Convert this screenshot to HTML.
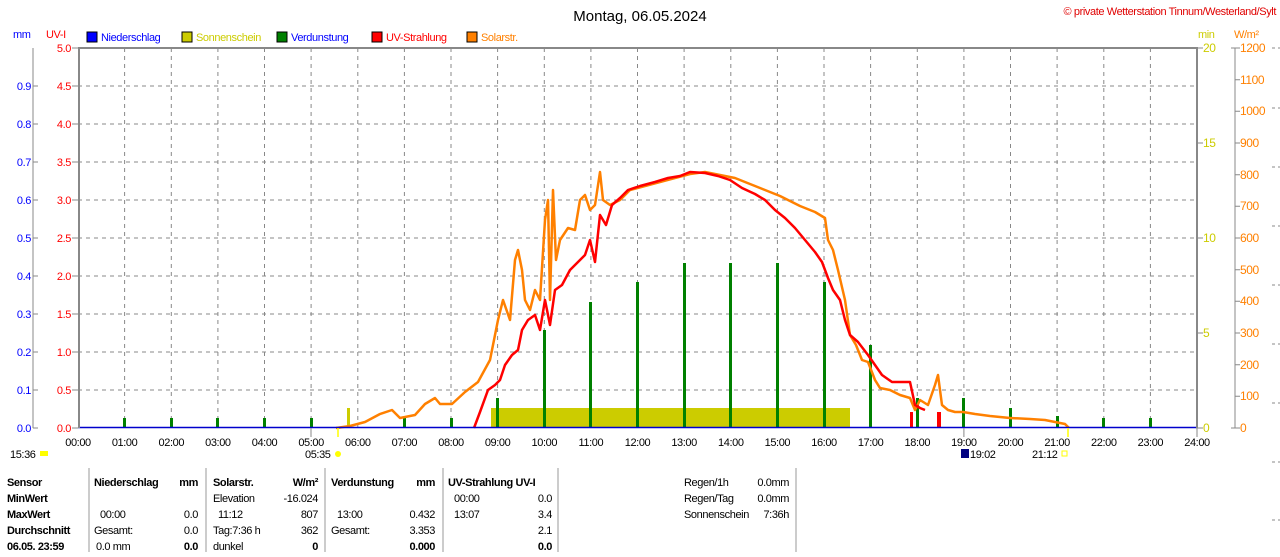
<!DOCTYPE html>
<html><head><meta charset="utf-8"><style>
body{margin:0;background:#fff;width:1280px;height:552px;overflow:hidden}
svg{font-family:"Liberation Sans",sans-serif;font-size:12px}
svg g text{letter-spacing:-0.4px}
</style></head><body>
<svg width="1280" height="552" xmlns="http://www.w3.org/2000/svg">
<text x="640" y="21" font-size="15" text-anchor="middle">Montag, 06.05.2024</text>
<g><text x="1276" y="15" font-size="11" fill="#e00000" text-anchor="end">© private Wetterstation Tinnum/Westerland/Sylt</text></g>
<g font-size="11">
<text x="13" y="38" fill="#0000ff">mm</text>
<text x="46" y="38" fill="#ff0000">UV-I</text>
<rect x="87" y="32" width="10" height="10" fill="#0000ff" stroke="#000"/><text x="101" y="41" fill="#0000ff">Niederschlag</text>
<rect x="182" y="32" width="10" height="10" fill="#cccc00" stroke="#000"/><text x="196" y="41" fill="#cccc00">Sonnenschein</text>
<rect x="277" y="32" width="10" height="10" fill="#008000" stroke="#000"/><text x="291" y="41" fill="#0000ff">Verdunstung</text>
<rect x="372" y="32" width="10" height="10" fill="#ff0000" stroke="#000"/><text x="386" y="41" fill="#ff0000">UV-Strahlung</text>
<rect x="467" y="32" width="10" height="10" fill="#ff8000" stroke="#000"/><text x="481" y="41" fill="#ff8000">Solarstr.</text>
<text x="1198" y="38" fill="#cccc00">min</text>
<text x="1234" y="38" fill="#ff8000">W/m²</text>
</g>
<g stroke="#888" stroke-dasharray="4,4" stroke-width="1">
<path d="M78 86H1197M78 124H1197M78 162H1197M78 200H1197M78 238H1197M78 276H1197M78 314H1197M78 352H1197M78 390H1197"/>
<path d="M124.6 48V428M171.3 48V428M217.9 48V428M264.5 48V428M311.1 48V428M357.8 48V428M404.4 48V428M451 48V428M497.6 48V428M544.3 48V428M590.9 48V428M637.5 48V428M684.1 48V428M730.8 48V428M777.4 48V428M824 48V428M870.6 48V428M917.3 48V428M963.9 48V428M1010.5 48V428M1057.1 48V428M1103.8 48V428M1150.4 48V428"/>
</g>
<rect x="491" y="408" width="359" height="20" fill="#cccc00"/>
<rect x="347" y="408" width="3" height="20" fill="#cccc00"/>
<g fill="#008000">
<rect x="123" y="418" width="3" height="10"/><rect x="170" y="418" width="3" height="10"/><rect x="216" y="418" width="3" height="10"/><rect x="263" y="418" width="3" height="10"/><rect x="310" y="418" width="3" height="10"/><rect x="403" y="418" width="3" height="10"/><rect x="450" y="418" width="3" height="10"/>
<rect x="496" y="398" width="3" height="30"/><rect x="543" y="330" width="3" height="98"/><rect x="589" y="302" width="3" height="126"/><rect x="636" y="282" width="3" height="146"/><rect x="683" y="263" width="3" height="165"/><rect x="729" y="263" width="3" height="165"/><rect x="776" y="263" width="3" height="165"/><rect x="823" y="282" width="3" height="146"/><rect x="869" y="345" width="3" height="83"/><rect x="916" y="398" width="3" height="30"/><rect x="962" y="398" width="3" height="30"/><rect x="1009" y="408" width="3" height="20"/><rect x="1056" y="416" width="3" height="12"/><rect x="1102" y="418" width="3" height="10"/><rect x="1149" y="418" width="3" height="10"/>
</g>
<polyline fill="none" stroke="#ff8000" stroke-width="2.5" stroke-linejoin="round" points="336,428 350,426 365,422 380,414 392,410 400,418 415,415 425,404 435,398 440,404 452,404 465,392 478,382 490,360 498,320 503,300 510,320 515,260 518,250 522,270 525,300 530,310 535,290 540,300 545,220 548,200 550,300 553,190 556,260 560,240 568,228 575,230 580,200 585,195 590,210 595,205 600,172 603,200 610,205 620,200 630,190 645,186 660,182 675,178 690,174 705,172 720,175 735,178 750,184 765,190 780,196 800,206 815,212 825,218 828,240 833,250 838,270 845,300 850,335 856,345 862,360 868,362 875,380 880,388 890,390 900,395 910,398 915,410 920,400 928,405 935,385 938,375 942,405 948,410 955,412 963,412 975,414 990,416 1010,418 1030,419 1045,420 1055,422 1065,424 1069,428"/>
<polyline fill="none" stroke="#ff0000" stroke-width="2.5" stroke-linejoin="round" points="474,428 480,412 488,390 495,385 500,380 505,365 512,355 518,350 522,330 528,320 535,315 540,330 545,300 550,325 555,290 562,285 570,270 578,262 585,255 590,240 595,262 600,215 606,225 612,205 620,198 628,190 640,186 655,182 668,178 680,176 690,172 705,173 718,176 730,180 742,188 755,194 765,200 775,210 785,218 795,228 805,240 815,252 822,262 828,278 833,290 840,300 845,320 850,335 858,342 868,355 875,365 882,375 892,382 910,382 915,405 920,408 925,410"/>
<rect x="910" y="412" width="3" height="16" fill="#ff0000"/>
<rect x="937" y="412" width="4" height="16" fill="#ff0000"/>
<line x1="78" y1="427.5" x2="1197" y2="427.5" stroke="#0000cc" stroke-width="1.5"/>
<path d="M79 428V48H1197V428" fill="none" stroke="#888" stroke-width="2"/>
<g stroke="#888" stroke-width="1"><path d="M311 428V437M963.9 428V437M1197 428V437"/></g>
<g text-anchor="middle" font-size="11">
<text x="78" y="446">00:00</text><text x="124.6" y="446">01:00</text><text x="171.3" y="446">02:00</text><text x="217.9" y="446">03:00</text><text x="264.5" y="446">04:00</text><text x="311.1" y="446">05:00</text><text x="357.8" y="446">06:00</text><text x="404.4" y="446">07:00</text><text x="451" y="446">08:00</text><text x="497.6" y="446">09:00</text><text x="544.3" y="446">10:00</text><text x="590.9" y="446">11:00</text><text x="637.5" y="446">12:00</text><text x="684.1" y="446">13:00</text><text x="730.8" y="446">14:00</text><text x="777.4" y="446">15:00</text><text x="824" y="446">16:00</text><text x="870.6" y="446">17:00</text><text x="917.3" y="446">18:00</text><text x="963.9" y="446">19:00</text><text x="1010.5" y="446">20:00</text><text x="1057.1" y="446">21:00</text><text x="1103.8" y="446">22:00</text><text x="1150.4" y="446">23:00</text><text x="1197" y="446">24:00</text>
</g>
<g font-size="11">
<text x="10" y="458">15:36</text><rect x="40" y="451" width="8" height="5" fill="#ffff00"/>
<text x="305" y="458">05:35</text><circle cx="338" cy="454" r="3" fill="#ffff00"/>
<rect x="961" y="449" width="8" height="9" fill="#000080"/><text x="970" y="458">19:02</text>
<text x="1032" y="458">21:12</text><rect x="1062" y="451" width="5" height="5" fill="none" stroke="#ffff00"/>
</g>
<line x1="338" y1="428" x2="338" y2="437" stroke="#ffff00" stroke-width="1.5"/>
<line x1="1068" y1="428" x2="1068" y2="437" stroke="#ffff00" stroke-width="1.5"/>
<g stroke="#888"><path d="M33 48V428M33 428H38M33 390H38M33 352H38M33 314H38M33 276H38M33 238H38M33 200H38M33 162H38M33 124H38M33 86H38"/>
<path d="M72 48H78M72 86H78M72 124H78M72 162H78M72 200H78M72 238H78M72 276H78M72 314H78M72 352H78M72 390H78M72 428H78"/></g>
<g fill="#0000ff" font-size="11" text-anchor="end">
<text x="31" y="90">0.9</text><text x="31" y="128">0.8</text><text x="31" y="166">0.7</text><text x="31" y="204">0.6</text><text x="31" y="242">0.5</text><text x="31" y="280">0.4</text><text x="31" y="318">0.3</text><text x="31" y="356">0.2</text><text x="31" y="394">0.1</text><text x="31" y="432">0.0</text></g>
<g fill="#ff0000" font-size="11" text-anchor="end">
<text x="71" y="52">5.0</text><text x="71" y="90">4.5</text><text x="71" y="128">4.0</text><text x="71" y="166">3.5</text><text x="71" y="204">3.0</text><text x="71" y="242">2.5</text><text x="71" y="280">2.0</text><text x="71" y="318">1.5</text><text x="71" y="356">1.0</text><text x="71" y="394">0.5</text><text x="71" y="432">0.0</text></g>
<g stroke="#888"><path d="M1197 48H1203M1197 143H1203M1197 238H1203M1197 333H1203M1197 428H1203"/>
<path d="M1235 48V428M1231 48H1240M1235 79.7H1240M1235 111.3H1240M1235 143H1240M1235 174.7H1240M1235 206.3H1240M1235 238H1240M1235 269.7H1240M1235 301.3H1240M1235 333H1240M1235 364.7H1240M1235 396.3H1240M1231 428H1240"/>
<path d="M1272 48H1280M1272 108H1280M1272 167H1280M1272 226H1280M1272 285H1280M1272 344H1280M1272 403H1280M1272 462H1280M1272 520H1280" stroke-dasharray="3,3"/></g>
<g fill="#cccc00" font-size="12"><text x="1203" y="52">20</text><text x="1203" y="147">15</text><text x="1203" y="242">10</text><text x="1203" y="337">5</text><text x="1203" y="432">0</text></g>
<g fill="#ff8000" font-size="12"><text x="1240" y="52">1200</text><text x="1240" y="84">1100</text><text x="1240" y="115">1000</text><text x="1240" y="147">900</text><text x="1240" y="179">800</text><text x="1240" y="210">700</text><text x="1240" y="242">600</text><text x="1240" y="274">500</text><text x="1240" y="305">400</text><text x="1240" y="337">300</text><text x="1240" y="369">200</text><text x="1240" y="400">100</text><text x="1240" y="432">0</text></g>
<g stroke="#999"><path d="M89 468V552M206 468V552M325 468V552M443 468V552M558 468V552M796 468V552"/></g>
<g font-size="11">
<g font-weight="bold"><text x="7" y="486">Sensor</text><text x="7" y="502">MinWert</text><text x="7" y="518">MaxWert</text><text x="7" y="534">Durchschnitt</text><text x="7" y="550">06.05. 23:59</text>
<text x="94" y="486">Niederschlag</text><text x="198" y="486" text-anchor="end">mm</text>
<text x="213" y="486">Solarstr.</text><text x="318" y="486" text-anchor="end">W/m²</text>
<text x="331" y="486">Verdunstung</text><text x="435" y="486" text-anchor="end">mm</text>
<text x="448" y="486">UV-Strahlung UV-I</text>
<text x="198" y="550" text-anchor="end">0.0</text><text x="318" y="550" text-anchor="end">0</text><text x="435" y="550" text-anchor="end">0.000</text><text x="552" y="550" text-anchor="end">0.0</text></g>
<text x="100" y="518">00:00</text><text x="198" y="518" text-anchor="end">0.0</text>
<text x="94" y="534">Gesamt:</text><text x="198" y="534" text-anchor="end">0.0</text>
<text x="96" y="550">0.0 mm</text>
<text x="213" y="502">Elevation</text><text x="318" y="502" text-anchor="end">-16.024</text>
<text x="218" y="518">11:12</text><text x="318" y="518" text-anchor="end">807</text>
<text x="213" y="534">Tag:7:36 h</text><text x="318" y="534" text-anchor="end">362</text>
<text x="213" y="550">dunkel</text>
<text x="337" y="518">13:00</text><text x="435" y="518" text-anchor="end">0.432</text>
<text x="331" y="534">Gesamt:</text><text x="435" y="534" text-anchor="end">3.353</text>
<text x="454" y="502">00:00</text><text x="552" y="502" text-anchor="end">0.0</text>
<text x="454" y="518">13:07</text><text x="552" y="518" text-anchor="end">3.4</text>
<text x="552" y="534" text-anchor="end">2.1</text>
<text x="684" y="486">Regen/1h</text><text x="789" y="486" text-anchor="end">0.0mm</text>
<text x="684" y="502">Regen/Tag</text><text x="789" y="502" text-anchor="end">0.0mm</text>
<text x="684" y="518">Sonnenschein</text><text x="789" y="518" text-anchor="end">7:36h</text>
</g>
</svg>
</body></html>
